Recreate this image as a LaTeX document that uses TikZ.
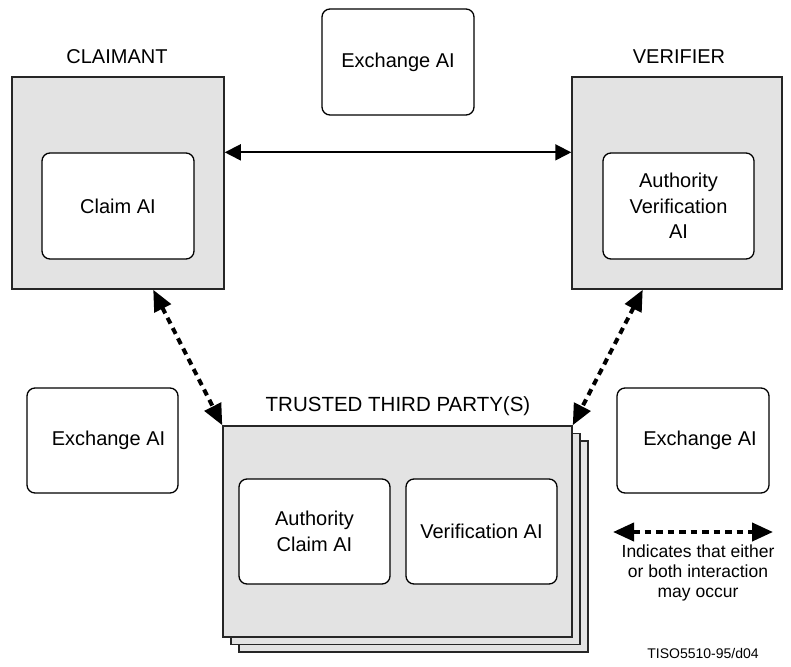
\documentclass[tikz,border=0pt]{standalone}
\usepackage{fontspec}
\setmainfont{Liberation Sans}
\usetikzlibrary{arrows.meta,calc}

\tikzset{
  entity/.style={draw=black!85, fill=gray!22, line width=1.5pt, inner sep=0pt},
  infobox/.style={draw=black, fill=white, line width=1.3pt, rounded corners=8pt,
    inner sep=0pt, align=center, font=\fontsize{20}{25.7}\selectfont},
  heading/.style={font=\fontsize{20}{24}\selectfont, inner sep=0pt},
  solidlink/.style={line width=1.8pt, {Triangle[length=16pt,width=16pt]}-{Triangle[length=16pt,width=16pt]}},
  optlink/.style={line width=4pt, dash pattern=on 6.5pt off 5pt,
    {Triangle[length=21pt,width=18pt]}-{Triangle[length=21pt,width=18pt]}},
}

\begin{document}
\begin{tikzpicture}[x=1pt, y=-1pt]
\useasboundingbox (0,0) rectangle (791,666);

% Claimant and verifier
\node[entity, minimum width=212pt, minimum height=212pt] (claimant) at (118,183) {};
\node[infobox, minimum width=152pt, minimum height=106pt] (claimai) at (118,206) {Claim AI};
\node[heading] (claimantlbl) at (117,57) {CLAIMANT};

\node[entity, minimum width=210pt, minimum height=212pt] (verifier) at (677,183) {};
\node[infobox, minimum width=151pt, minimum height=106pt] (avai) at (678.5,206) {Authority\\Verification\\AI};
\node[heading] (verifierlbl) at (679,57) {VERIFIER};

% Exchange AI boxes
\node[infobox, minimum width=152pt, minimum height=106pt] (exTop) at (398,62) {Exchange AI};
\node[infobox, minimum width=151pt, minimum height=105pt] (exLeft) at (102.5,440.5) {\hspace{12pt}Exchange AI};
\node[infobox, minimum width=152pt, minimum height=105pt] (exRight) at (693,440.5) {\hspace{14pt}Exchange AI};

% Trusted third parties (stacked)
\node[entity, minimum width=349pt, minimum height=211pt] (ttp3) at (413.5,546.5) {};
\node[entity, minimum width=349pt, minimum height=211pt] (ttp2) at (405.5,539) {};
\node[entity, minimum width=349pt, minimum height=211pt] (ttp) at (397.5,531.5) {};
\node[heading, font=\fontsize{20.5}{24}\selectfont] (ttplbl) at (398,406) {TRUSTED THIRD PARTY(S)};
\node[infobox, minimum width=151pt, minimum height=105pt] (acai) at (314.5,531.5) {Authority\\Claim AI};
\node[infobox, minimum width=151pt, minimum height=105pt] (vai) at (481.5,531.5) {Verification AI};

% Interactions
\draw[solidlink] (claimai.north -| claimant.east) -- (claimai.north -| verifier.west);
\draw[optlink] ($(claimant.south west)!0.665!(claimant.south east)$) -- (ttp.north west);
\draw[optlink] ($(verifier.south west)!0.338!(verifier.south east)$) -- (ttp.north east);

% Legend
\coordinate (legA) at (613,532);
\coordinate (legB) at (773,532);
\draw[optlink] (legA) -- (legB);
\node[align=center, inner sep=0pt, font=\fontsize{17.5}{20}\selectfont] (legtxt) at (698,573)
  {Indicates that either\\or both interaction\\may occur};
\node[inner sep=0pt, font=\fontsize{14}{16}\selectfont] (figid) at (703,653) {TISO5510-95/d04};
\end{tikzpicture}
\end{document}
